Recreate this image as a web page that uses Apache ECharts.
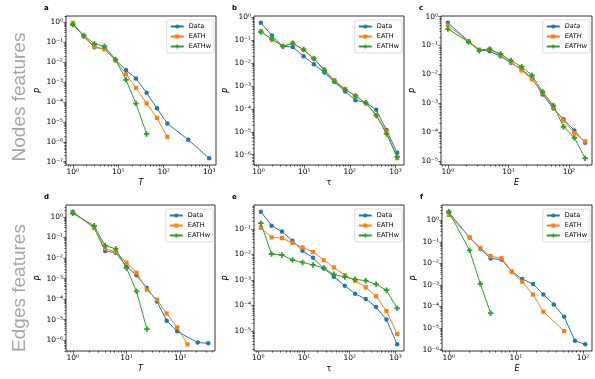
<!DOCTYPE html>
<html><head><meta charset="utf-8">
<script src="https://cdn.jsdelivr.net/npm/echarts@6/dist/echarts.min.js"></script>
<style>html,body{margin:0;padding:0;background:#fff}#c{width:595px;height:379px}</style>
</head><body><div id="c"></div>
<script>
// ---- data ----
const seriesNames = ['Data', 'EATH', 'EATHw'];
// panel a: nodes, T
const aDataX = [1.0, 1.74, 3.0, 4.95, 8.7, 14.8, 24.5, 42, 71, 120, 347, 1000];
const aDataY = [0.79, 0.2, 0.056, 0.046, 0.013, 0.004, 1.5e-3, 2.9e-4, 4.8e-5, 8.4e-6, 1.26e-6, 1.5e-7];
const aEathX = [1.0, 1.74, 3.0, 4.95, 8.7, 14.8, 24.5, 42, 71, 120];
const aEathY = [0.95, 0.2, 0.06, 0.046, 0.012, 2.5e-3, 5.1e-4, 8.5e-5, 1.6e-5, 1.8e-6];
const aEathwX = [1.0, 1.74, 3.0, 4.95, 8.7, 14.8, 24.5, 42];
const aEathwY = [0.78, 0.22, 0.083, 0.063, 0.0135, 1.3e-3, 8.3e-5, 2.5e-6];
// panel b: nodes, tau
const bX = [1.12, 1.96, 3.4, 5.6, 9.7, 16.3, 27.5, 46, 79, 133, 224, 379, 636, 1090];
const bDataY = [0.58, 0.16, 0.055, 0.051, 0.02, 8.9e-3, 3.9e-3, 1.5e-3, 5.8e-4, 2.4e-4, 1.9e-4, 9.1e-5, 1.2e-5, 1.2e-6];
const bEathY = [0.25, 0.107, 0.055, 0.073, 0.038, 0.0155, 5.3e-3, 1.8e-3, 7.4e-4, 3.7e-4, 1.8e-4, 5.4e-5, 1.0e-5, 7.0e-7];
const bEathwY = [0.23, 0.114, 0.055, 0.073, 0.039, 0.016, 4.8e-3, 1.6e-3, 6.9e-4, 3.7e-4, 1.8e-4, 5.2e-5, 8.1e-6, 8.1e-7];
// panel c: nodes, E
const cX = [1.0, 2.2, 3.3, 4.9, 7.4, 11, 16.5, 24.5, 36.5, 55, 81, 122, 184];
const cDataY = [0.61, 0.14, 0.069, 0.063, 0.042, 0.025, 0.015, 7.4e-3, 2e-3, 6.6e-4, 2.8e-4, 1.15e-4, 4.3e-5];
const cEathY = [0.5, 0.136, 0.072, 0.074, 0.045, 0.027, 0.0137, 6.7e-3, 2.3e-3, 7.3e-4, 2.5e-4, 9.4e-5, 4.8e-5];
const cEathwY = [0.37, 0.132, 0.066, 0.074, 0.051, 0.030, 0.0185, 9.1e-3, 2.5e-3, 8.4e-4, 1.54e-4, 6.4e-5, 1.25e-5];
// panel d: edges, T
const dDataX = [1.0, 2.5, 4.0, 6.3, 10, 15.4, 24, 37, 56, 88, 213, 333];
const dDataY = [1.8, 0.29, 0.022, 0.018, 3.9e-3, 1.45e-3, 3.5e-4, 7.7e-5, 8.9e-6, 2.7e-6, 7.7e-7, 7.1e-7];
const dEathX = [1.0, 2.5, 4.0, 6.3, 10, 15.4, 24, 37, 56, 88, 137];
const dEathY = [1.6, 0.31, 0.029, 0.02, 5.9e-3, 1.9e-3, 2.9e-4, 9.3e-5, 2e-5, 4.2e-6, 6.3e-7];
const dEathwX = [1.0, 2.5, 4.0, 6.3, 10, 15.4, 24];
const dEathwY = [1.5, 0.37, 0.04, 0.028, 3.3e-3, 2.4e-4, 3.5e-6];
// panel e: edges, tau
const eX = [1.14, 1.96, 3.3, 5.6, 9.3, 15.8, 27, 45, 78, 131, 224, 377, 635, 1090];
const eDataY = [0.48, 0.135, 0.079, 0.035, 0.014, 7.5e-3, 2.9e-3, 1.35e-3, 6e-4, 2.9e-4, 1.8e-4, 8.7e-5, 2.8e-5, 3e-6];
const eEathY = [0.112, 0.047, 0.044, 0.029, 0.019, 0.0126, 6e-3, 3.1e-3, 1.57e-3, 9.4e-4, 5.2e-4, 2.3e-4, 6.1e-5, 7.6e-6];
const eEathwY = [0.17, 0.0105, 9.6e-3, 6.1e-3, 4.9e-3, 3.9e-3, 2.95e-3, 1.67e-3, 1.31e-3, 1.06e-3, 9.4e-4, 6.9e-4, 4.0e-4, 7.8e-5];
// panel f: edges, E
const fDataX = [1.0, 2.04, 2.95, 4.2, 6.1, 8.7, 12.4, 18, 25.7, 36.7, 52.5, 76, 108];
const fDataY = [2.35, 0.158, 0.047, 0.017, 0.015, 4.1e-3, 1.9e-3, 1.1e-3, 3.6e-4, 1.25e-4, 3.3e-5, 2.6e-6, 1.75e-6];
const fEathX = [1.0, 2.04, 2.95, 4.2, 6.1, 8.7, 12.4, 18, 25.7, 52.5];
const fEathY = [1.76, 0.163, 0.052, 0.0215, 0.0173, 4.2e-3, 1.4e-3, 3.6e-4, 5.7e-5, 7.2e-6];
const fEathwX = [1.0, 2.04, 2.95, 4.2];
const fEathwY = [2.5, 0.04, 1.13e-3, 4.9e-5];

const panelLetters = ['a', 'b', 'c', 'd', 'e', 'f'];
const xNames = ['T', 'τ', 'E', 'T', 'τ', 'E'];
const yName = 'P';
const rowTitles = ['Nodes features', 'Edges features'];

// ---- layout / style ----
const colors = ['#1f77b4', '#ff7f0e', '#2ca02c'];
const plusPath = 'path://M1,0H2V1H3V2H2V3H1V2H0V1H1Z';
const symbols = ['circle', 'rect', plusPath];
const symbolSizes = [4.5, 4.2, 5.5];
const grids = [
  {left: 66, top: 16, width: 150, height: 149},
  {left: 254, top: 16, width: 150, height: 149},
  {left: 441, top: 16, width: 151, height: 149},
  {left: 66, top: 205, width: 149, height: 146},
  {left: 254, top: 205, width: 150, height: 146},
  {left: 442, top: 205, width: 150, height: 146}
];
const panels = [
  [[aDataX, aDataY], [aEathX, aEathY], [aEathwX, aEathwY]],
  [[bX, bDataY], [bX, bEathY], [bX, bEathwY]],
  [[cX, cDataY], [cX, cEathY], [cX, cEathwY]],
  [[dDataX, dDataY], [dEathX, dEathY], [dEathwX, dEathwY]],
  [[eX, eDataY], [eX, eEathY], [eX, eEathwY]],
  [[fDataX, fDataY], [fEathX, fEathY], [fEathwX, fEathwY]]
];
const italicX = [true, false, true, true, false, true];
const italicLegend = [false, false, true, false, false, false];

const FONT = '"DejaVu Sans", sans-serif';
const supMap = {'-': '\u207B', '0': '\u2070', '1': '\u00B9', '2': '\u00B2', '3': '\u00B3', '4': '\u2074', '5': '\u2075', '6': '\u2076', '7': '\u2077', '8': '\u2078', '9': '\u2079'};
function fmt(v) { return '10' + String(Math.round(v)).split('').map(c => supMap[c]).join(''); }
function range(vals) {
  const l = vals.map(Math.log10);
  const mn = Math.min(...l), mx = Math.max(...l), m = (mx - mn) * 0.05;
  return [mn - m, mx + m];
}
function majors(r) { const o = []; for (let n = Math.ceil(r[0]); n <= Math.floor(r[1]); n++) o.push(n); return o; }
function minors(r) {
  const o = [];
  for (let n = Math.floor(r[0]); n <= Math.ceil(r[1]); n++)
    for (let k = 2; k <= 9; k++) { const v = n + Math.log10(k); if (v >= r[0] && v <= r[1]) o.push(v); }
  return o;
}

const gridOpts = [], xAxes = [], yAxes = [], series = [], legends = [], graphics = [];
const tickStyle = {color: '#000', width: 0.6};
const noLine = {show: false, onZero: false};
panels.forEach((p, i) => {
  const g = grids[i];
  gridOpts.push(Object.assign({show: true, borderColor: '#000', borderWidth: 0.8, backgroundColor: 'transparent', containLabel: false}, g));
  const xr = range([].concat(...p.map(s => s[0])));
  const yr = range([].concat(...p.map(s => s[1])));
  const mx = majors(xr), my = majors(yr);
  xAxes[i] = {gridIndex: i, type: 'value', position: 'bottom', min: xr[0], max: xr[1], axisLine: noLine, splitLine: {show: false},
    axisTick: {show: true, customValues: mx, length: 2.8, lineStyle: tickStyle},
    axisLabel: {customValues: mx, formatter: fmt, fontSize: 7.5, color: '#000', margin: 3, fontFamily: FONT},
    name: xNames[i], nameLocation: 'middle', nameGap: 14,
    nameTextStyle: {fontStyle: italicX[i] ? 'italic' : 'normal', fontSize: 8, color: '#000', fontFamily: FONT}};
  yAxes[i] = {gridIndex: i, type: 'value', position: 'left', min: yr[0], max: yr[1], axisLine: noLine, splitLine: {show: false},
    axisTick: {show: true, customValues: my, length: 2.8, lineStyle: tickStyle},
    axisLabel: {customValues: my, formatter: fmt, fontSize: 7.5, color: '#000', margin: 3, fontFamily: FONT},
    name: yName, nameLocation: 'middle', nameGap: 22,
    nameTextStyle: {fontStyle: 'italic', fontSize: 8, color: '#000', fontFamily: FONT}};
  xAxes[6 + i] = {gridIndex: i, type: 'value', position: 'bottom', offset: 0, min: xr[0], max: xr[1], axisLine: noLine, splitLine: {show: false},
    axisLabel: {show: false}, axisTick: {show: true, customValues: minors(xr), length: 1.6, lineStyle: tickStyle}};
  yAxes[6 + i] = {gridIndex: i, type: 'value', position: 'left', offset: 0, min: yr[0], max: yr[1], axisLine: noLine, splitLine: {show: false},
    axisLabel: {show: false}, axisTick: {show: true, customValues: minors(yr), length: 1.6, lineStyle: tickStyle}};
  p.forEach((s, k) => {
    series.push({name: seriesNames[k], type: 'line', xAxisIndex: i, yAxisIndex: i,
      data: s[0].map((x, j) => [Math.log10(x), Math.log10(s[1][j])]),
      symbol: symbols[k], symbolSize: symbolSizes[k], showSymbol: true,
      itemStyle: {color: colors[k]}, lineStyle: {color: colors[k], width: 1}, z: 2 + k, animation: false,
      emphasis: {disabled: true}});
  });
  legends.push({data: seriesNames, orient: 'vertical', right: 595 - (g.left + g.width) + 2, top: g.top + 4,
    itemWidth: 13, itemHeight: 5, itemGap: 3, padding: [3, 3, 3, 3], backgroundColor: '#fff',
    borderColor: '#cccccc', borderWidth: 0.7, borderRadius: 2, selectedMode: false,
    textStyle: {fontSize: 6.5, fontFamily: FONT, color: '#000', fontStyle: italicLegend[i] ? 'italic' : 'normal'}});
  graphics.push({type: 'text', x: g.left - 22, y: g.top - 8, style: {text: panelLetters[i], fill: '#000', font: 'bold 7px ' + FONT, align: 'left', verticalAlign: 'middle'}});
});
graphics.push({type: 'text', x: 20, y: 97, rotation: Math.PI / 2, style: {text: rowTitles[0], fill: '#a6a6a6', font: '19px "Liberation Sans", Arial, sans-serif', align: 'center', verticalAlign: 'middle'}});
graphics.push({type: 'text', x: 20, y: 288, rotation: Math.PI / 2, style: {text: rowTitles[1], fill: '#a6a6a6', font: '19px "Liberation Sans", Arial, sans-serif', align: 'center', verticalAlign: 'middle'}});

const chart = echarts.init(document.getElementById('c'), null, {renderer: 'canvas'});
chart.setOption({animation: false, grid: gridOpts, xAxis: xAxes, yAxis: yAxes, series: series, legend: legends, graphic: graphics});
</script></body></html>
